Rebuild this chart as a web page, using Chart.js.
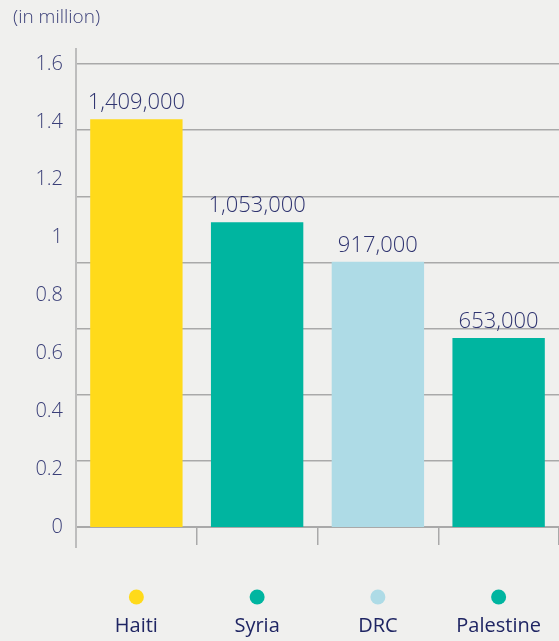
<!DOCTYPE html>
<html>
<head>
<meta charset="utf-8">
<script src="https://cdn.jsdelivr.net/npm/chart.js@4"></script>
<style>
  html, body { margin: 0; padding: 0; background: #F0F0EE; }
  #wrap { width: 559px; height: 641px; }
</style>
</head>
<body>
<div id="wrap"><canvas id="c" width="559" height="641"></canvas></div>
<script>
const categories = ['Haiti', 'Syria', 'DRC', 'Palestine'];
const peopleCount = [1409000, 1053000, 917000, 653000];
const valueLabels = ['1,409,000', '1,053,000', '917,000', '653,000'];
const barColors = ['#FFDA1A', '#00B5A0', '#AEDBE6', '#00B5A0'];
const yTickMax = 1.6;
const yTickStep = 0.2;
const gridDivisions = 7;
const unitTitle = '(in million)';

const textColor = '#2F3470';
const FONT = '"Open Sans", "Noto Sans", sans-serif';

const bgPlugin = {
  id: 'bg',
  beforeDraw(chart) {
    const ctx = chart.ctx;
    ctx.save();
    ctx.fillStyle = '#F0F0EE';
    ctx.fillRect(0, 0, chart.width, chart.height);
    ctx.restore();
  }
};

const extrasPlugin = {
  id: 'extras',
  afterDatasetsDraw(chart) {
    const ctx = chart.ctx;
    const area = chart.chartArea;
    const x = chart.scales.x;
    ctx.save();
    // unit title
    ctx.fillStyle = '#3A3F78';
    ctx.font = '300 19px ' + FONT;
    ctx.textAlign = 'left';
    ctx.textBaseline = 'middle';
    ctx.fillText(unitTitle, 13, 18);
    // extended left axis line
    ctx.strokeStyle = '#BDBDBD';
    ctx.lineWidth = 2;
    ctx.beginPath();
    ctx.moveTo(area.left, area.top - 16);
    ctx.lineTo(area.left, area.bottom + 21);
    ctx.stroke();
    // value labels
    const meta = chart.getDatasetMeta(0);
    ctx.fillStyle = textColor;
    ctx.font = '300 22px ' + FONT;
    ctx.textAlign = 'center';
    ctx.textBaseline = 'alphabetic';
    meta.data.forEach((bar, i) => {
      ctx.fillText(valueLabels[i], bar.x, bar.y - 10);
    });
    // legend dots
    categories.forEach((c, i) => {
      const cx = x.getPixelForValue(i);
      ctx.fillStyle = barColors[i];
      ctx.beginPath();
      ctx.arc(cx, area.bottom + 70, 7.5, 0, Math.PI * 2);
      ctx.fill();
    });
    ctx.restore();
  }
};

new Chart(document.getElementById('c'), {
  type: 'bar',
  data: {
    labels: categories,
    datasets: [{
      data: peopleCount.map(v => v / 1e6),
      backgroundColor: barColors,
      borderWidth: 0,
      categoryPercentage: 1,
      barPercentage: 0.765
    }]
  },
  options: {
    responsive: false,
    animation: false,
    devicePixelRatio: 1,
    layout: { padding: { left: 0, right: 0, top: 64, bottom: 0 } },
    plugins: {
      legend: { display: false },
      tooltip: { enabled: false },
      title: { display: false }
    },
    scales: {
      x: {
        offset: true,
        afterFit(scale) {
          scale.height = 114;
          scale.paddingLeft = 0;
          scale.paddingRight = 0;
        },
        grid: {
          offset: true,
          drawOnChartArea: false,
          drawTicks: true,
          tickLength: 18,
          color: (c) => ((c.index === 0 || c.index === categories.length) ? 'rgba(0,0,0,0)' : '#A9A9A9'),
          lineWidth: 1.5
        },
        border: { display: true, color: '#A9A9A9', width: 2 },
        ticks: {
          color: '#1F2563',
          font: { family: FONT, size: 20 },
          padding: 69
        }
      },
      y: {
        min: 0,
        max: yTickMax,
        position: 'left',
        afterFit(scale) { scale.width = 76; },
        ticks: {
          stepSize: yTickStep,
          color: '#3A3F78',
          font: { family: FONT, size: 20, weight: '300' },
          padding: 13,
          callback: (v) => String(Math.round(v * 10) / 10)
        },
        grid: { display: false, drawTicks: false },
        border: { display: false }
      },
      yg: {
        min: 0,
        max: gridDivisions,
        position: 'right',
        afterFit(scale) { scale.width = 0; },
        ticks: { display: false, stepSize: 1 },
        grid: { color: '#A9A9A9', lineWidth: 1.5, drawTicks: false },
        border: { display: false }
      }
    }
  },
  plugins: [bgPlugin, extrasPlugin]
});
</script>
</body>
</html>
